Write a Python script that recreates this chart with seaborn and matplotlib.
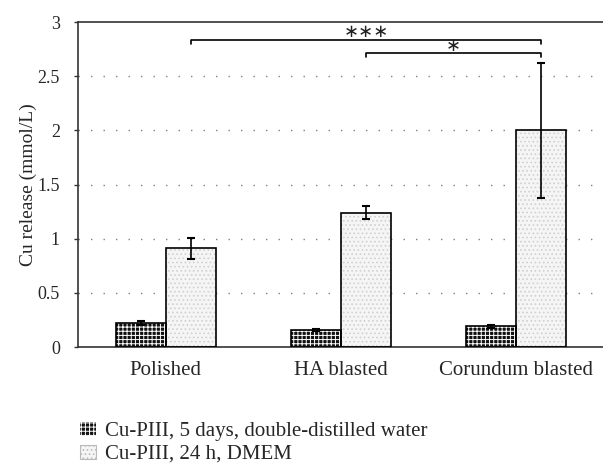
import matplotlib
matplotlib.use("Agg")
import matplotlib.pyplot as plt
import seaborn as sns
import pandas as pd
import numpy as np
from matplotlib.patches import Patch

categories = ["Polished", "HA blasted", "Corundum blasted"]
series_names = ["Cu-PIII, 5 days, double-distilled water", "Cu-PIII, 24 h, DMEM"]
water_values = [0.22, 0.16, 0.19]
water_err = [0.02, 0.01, 0.01]
dmem_values = [0.91, 1.24, 2.00]
dmem_err = [0.10, 0.06, 0.625]
yticks = [0, 0.5, 1, 1.5, 2, 2.5, 3]
ytick_labels = ["0", "0.5", "1", "1.5", "2", "2.5", "3"]
brackets = [(0, 2, 2.83, 2.91, "\u2217\u2217\u2217"), (1, 2, 2.71, 2.78, "\u2217")]

sns.set_theme(style="white")
plt.rcParams['font.family'] = ['Liberation Serif', 'DejaVu Serif']
plt.rcParams['hatch.linewidth'] = 0.7

df = pd.DataFrame({
    "cat": categories * 2,
    "series": [series_names[0]] * 3 + [series_names[1]] * 3,
    "val": water_values + dmem_values,
})

fig = plt.figure(figsize=(6.03, 4.66), dpi=100)
ax = fig.add_axes([78/603, (466-347)/466, (604-78)/603, (347-22)/466])

sns.barplot(data=df, x="cat", y="val", hue="series", order=categories,
            hue_order=series_names, errorbar=None, width=0.57, gap=0,
            ax=ax, legend=False, saturation=1)

patches = ax.patches
water_patches = patches[:3]
dmem_patches = patches[3:6]

WATER_FACE = "#111111"
DMEM_FACE = "#f5f5f5"
for p in water_patches:
    p.set_facecolor(WATER_FACE)
    p.set_edgecolor("white")
    p.set_hatch("++++")
    p.set_linewidth(0)
    x, w, h = p.get_x(), p.get_width(), p.get_height()
    ax.add_patch(plt.Rectangle((x, 0), w, h, fill=False, edgecolor="black", lw=1.2, zorder=3))
for p in dmem_patches:
    p.set_facecolor(DMEM_FACE)
    p.set_edgecolor("#d0d0d0")
    p.set_hatch("....")
    p.set_linewidth(0)
    x, w, h = p.get_x(), p.get_width(), p.get_height()
    ax.add_patch(plt.Rectangle((x, 0), w, h, fill=False, edgecolor="black", lw=1.2, zorder=3))

wx = [p.get_x() + p.get_width()/2 for p in water_patches]
dx = [p.get_x() + p.get_width()/2 for p in dmem_patches]
ax.errorbar(wx, water_values, yerr=water_err, fmt="none", ecolor="black", elinewidth=1.2, capsize=3, capthick=1.5, zorder=4)
ax.errorbar(dx, dmem_values, yerr=dmem_err, fmt="none", ecolor="black", elinewidth=1.2, capsize=3, capthick=1.5, zorder=4)

for i0, i1, yb, ys, label in brackets:
    x0, x1 = dx[i0], dx[i1]
    ax.plot([x0, x0, x1, x1], [yb - 0.03, yb, yb, yb - 0.03], color="black", lw=1.2, clip_on=False)
    ax.text((x0 + x1)/2, ys, label, ha="center", va="center", fontsize=13,
            family=["DejaVu Sans"], color="#222222")

ax.set_xlim(-0.5, 2.5)
ax.set_ylim(0, 3)
ax.set_yticks(yticks)
ax.set_yticklabels(ytick_labels)
for yv in yticks[1:-1]:
    ax.axhline(yv, color="#808080", lw=1.0, ls=(0, (1, 8)), zorder=0)

ax.set_xticks([0, 1, 2])
ax.set_xticklabels(categories)
ax.set_xticks([0.5, 1.5], minor=True)
ax.tick_params(axis="x", which="major", length=0, labelsize=15, pad=10)
ax.tick_params(axis="x", which="minor", length=5, width=1, color="#444444", direction="out")
ax.tick_params(axis="y", length=3, width=1, direction="out", labelsize=13, left=True, color="#333333", pad=10)
ax.set_xlabel("")
ax.set_ylabel("Cu release (mmol/L)", fontsize=14, labelpad=0)

for s in ["left", "bottom", "top"]:
    ax.spines[s].set_color("#333333")
    ax.spines[s].set_linewidth(1.2)
ax.spines["right"].set_visible(False)

handles = [
    Patch(facecolor=WATER_FACE, edgecolor="white", hatch="++++", lw=0),
    Patch(facecolor=DMEM_FACE, edgecolor="#bbbbbb", hatch="....", lw=0.8),
]
leg = fig.legend(handles, series_names, loc="upper left", bbox_to_anchor=(80/603, 1 - 422/466),
                 frameon=False, fontsize=15, handlelength=0.77, handleheight=0.67,
                 handletextpad=0.45, labelspacing=0.15, borderaxespad=0, borderpad=0)

fig.savefig("out.png", dpi=100)
